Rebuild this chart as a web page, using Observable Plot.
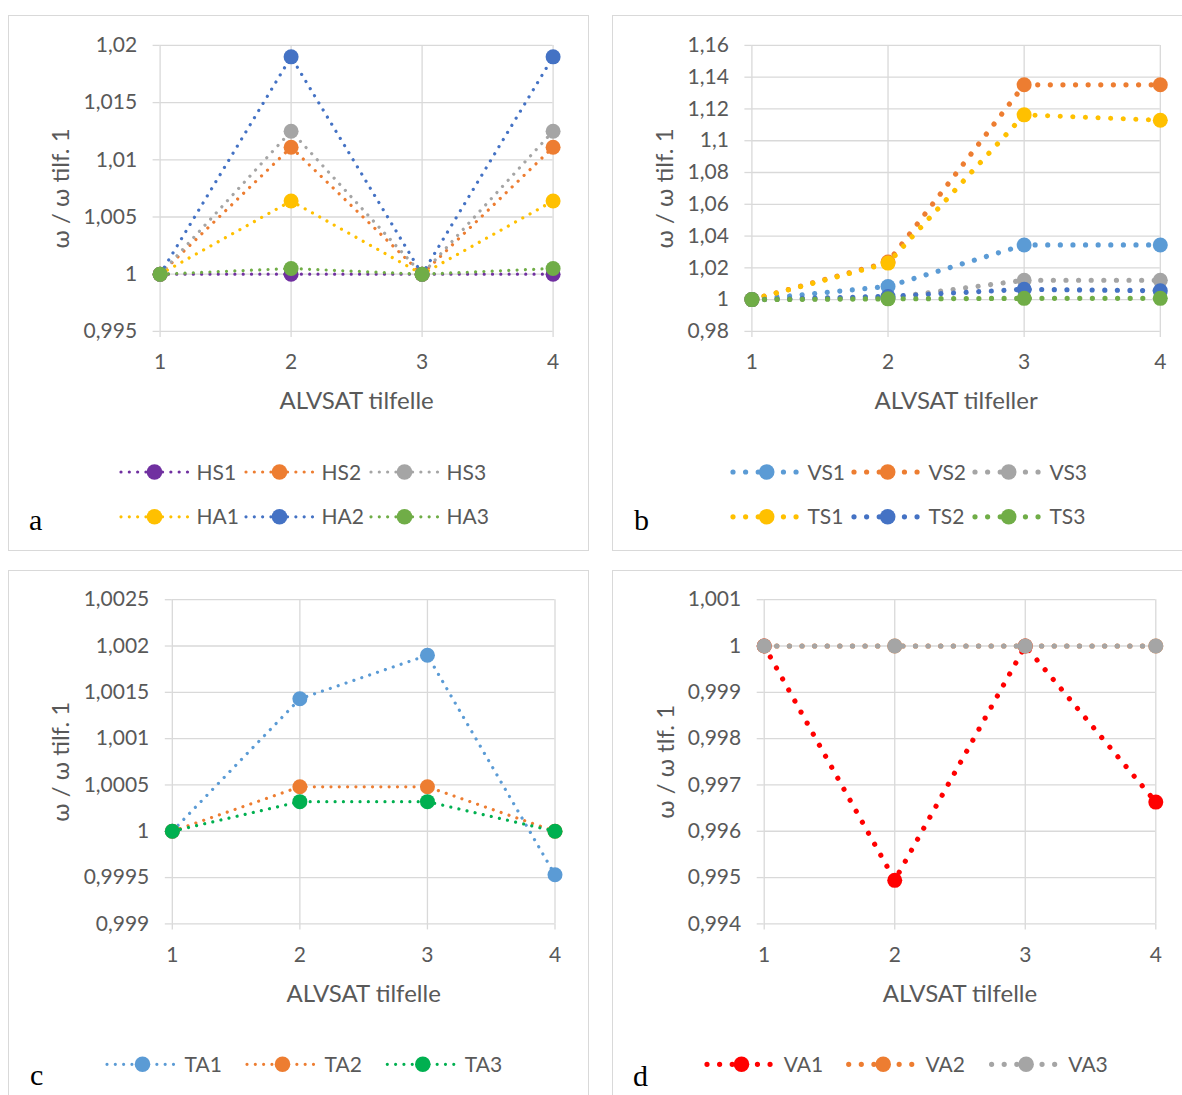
<!DOCTYPE html>
<html><head><meta charset="utf-8">
<script src="https://cdn.jsdelivr.net/npm/d3@7"></script>
<script src="https://cdn.jsdelivr.net/npm/@observablehq/plot@0.6"></script>
<style>
html,body{margin:0;padding:0;background:#fff;}
body{width:1182px;height:1095px;overflow:hidden;position:relative;font-family:Lato,"Open Sans",sans-serif;}
.panel{position:absolute;border:1px solid #d9d9d9;box-sizing:border-box;}
.plotbox{position:absolute;}
#overlay{position:absolute;left:0;top:0;}
</style></head><body>
<script>
// ---------- data ----------
const cases = [1, 2, 3, 4];

// panel a
const HS1 = [1, 1, 1, 1];
const HS2 = [1, 1.0111, 1, 1.0111];
const HS3 = [1, 1.0125, 1, 1.0125];
const HA1 = [1, 1.0064, 1, 1.0064];
const HA2 = [1, 1.019, 1, 1.019];
const HA3 = [1, 1.0005, 1, 1.0005];
const ticksA = [0.995, 1, 1.005, 1.01, 1.015, 1.02];

// panel b
const VS1 = [1, 1.0083, 1.0344, 1.0344];
const VS2 = [1, 1.0236, 1.1352, 1.1352];
const VS3 = [1, 1.001, 1.0122, 1.0122];
const TS1 = [1, 1.023, 1.1163, 1.1129];
const TS2 = [1, 1.002, 1.0065, 1.0056];
const TS3 = [1, 1.0005, 1.0008, 1.0008];
const ticksB = [0.98, 1, 1.02, 1.04, 1.06, 1.08, 1.1, 1.12, 1.14, 1.16];

// panel c
const TA1 = [1, 1.00143, 1.0019, 0.99953];
const TA2 = [1, 1.00048, 1.00048, 1];
const TA3 = [1, 1.00032, 1.00032, 1];
const ticksC = [0.999, 0.9995, 1, 1.0005, 1.001, 1.0015, 1.002, 1.0025];

// panel d
const VA1 = [1, 0.99494, 1, 0.99663];
const VA2 = [1, 1, 1, 1];
const VA3 = [1, 1, 1, 1];
const ticksD = [0.994, 0.995, 0.996, 0.997, 0.998, 0.999, 1, 1.001];

const xTitleA = "ALVSAT tilfelle";
const xTitleB = "ALVSAT tilfeller";
const yTitleABC = "ω / ω tilf. 1";
const yTitleD = "ω / ω tlf. 1";

// ---------- styling / layout ----------
const TXT = "#595959", GRID = "#d9d9d9";
const fmt = v => String(v).replace(".", ",");

const panels = [
  { letter: "a", border: [8, 15, 581, 536], svg: [10, 17, 575, 410],
    plot: [159.6, 44.9, 552.6, 330.9], domain: [0.995, 1.02], ticks: ticksA,
    xTitle: xTitleA, xTitleY: 400.7, yTitle: yTitleABC, yTitleX: 61,
    lw: 3.2, dash: "0.01 8.3", r: 7.5,
    series: [
      { name: "HS1", values: HS1, color: "#7030A0" },
      { name: "HS2", values: HS2, color: "#ED7D31" },
      { name: "HS3", values: HS3, color: "#A5A5A5" },
      { name: "HA1", values: HA1, color: "#FFC000" },
      { name: "HA2", values: HA2, color: "#4472C4" },
      { name: "HA3", values: HA3, color: "#70AD47" }],
    legend: { rows: [["HS1", "HS2", "HS3"], ["HA1", "HA2", "HA3"]], rowY: [472, 516.8],
      starts: [121, 246, 371], len: 67, mark: 33.5, text: 75.5 },
    letterPos: [29, 530] },
  { letter: "b", border: [612, 15, 600, 536], svg: [614, 17, 568, 410],
    plot: [751.4, 44.9, 1159.8, 330.9], domain: [0.98, 1.16], ticks: ticksB,
    xTitle: xTitleB, xTitleY: 400.7, yTitle: yTitleABC, yTitleX: 665,
    lw: 5.2, dash: "0.01 12.6", r: 7.5,
    series: [
      { name: "VS1", values: VS1, color: "#5B9BD5" },
      { name: "VS2", values: VS2, color: "#ED7D31" },
      { name: "VS3", values: VS3, color: "#A5A5A5" },
      { name: "TS1", values: TS1, color: "#FFC000" },
      { name: "TS2", values: TS2, color: "#4472C4" },
      { name: "TS3", values: TS3, color: "#70AD47" }],
    legend: { rows: [["VS1", "VS2", "VS3"], ["TS1", "TS2", "TS3"]], rowY: [472, 516.8],
      starts: [733, 854, 975], len: 64, mark: 33.7, text: 74.5 },
    letterPos: [634, 530] },
  { letter: "c", border: [8, 570, 581, 600], svg: [10, 573, 575, 440],
    plot: [171.8, 599.2, 554.5, 923.4], domain: [0.999, 1.0025], ticks: ticksC,
    xTitle: xTitleA, xTitleY: 994, yTitle: yTitleABC, yTitleX: 61,
    lw: 3.2, dash: "0.01 8.3", r: 7.5,
    series: [
      { name: "TA1", values: TA1, color: "#5B9BD5" },
      { name: "TA2", values: TA2, color: "#ED7D31" },
      { name: "TA3", values: TA3, color: "#00B050" }],
    legend: { rows: [["TA1", "TA2", "TA3"]], rowY: [1064.3],
      starts: [107, 247, 387.3], len: 69, mark: 35.5, text: 77.5 },
    letterPos: [30, 1085] },
  { letter: "d", border: [612, 570, 600, 600], svg: [614, 573, 568, 440],
    plot: [763.7, 599.2, 1155.3, 923.4], domain: [0.994, 1.001], ticks: ticksD,
    xTitle: xTitleA, xTitleY: 994, yTitle: yTitleD, yTitleX: 666,
    lw: 5.2, dash: "0.01 12.6", r: 7.5,
    series: [
      { name: "VA1", values: VA1, color: "#FF0000" },
      { name: "VA2", values: VA2, color: "#ED7D31" },
      { name: "VA3", values: VA3, color: "#A5A5A5" }],
    legend: { rows: [["VA1", "VA2", "VA3"]], rowY: [1064.3],
      starts: [707, 848.7, 991.6], len: 64, mark: 34.5, text: 76.7 },
    letterPos: [633, 1086] }
];

// ---------- drawing ----------
for (const p of panels) {
  const b = document.createElement("div");
  b.className = "panel";
  Object.assign(b.style, { left: p.border[0] + "px", top: p.border[1] + "px", width: p.border[2] + "px", height: p.border[3] + "px" });
  document.body.appendChild(b);
}

for (const p of panels) {
  const [sx, sy, W, H] = p.svg;
  const [px0, py0, px1, py1] = p.plot;
  const rows = [];
  p.series.forEach(s => s.values.forEach((v, i) => rows.push({ series: s.name, x: cases[i], y: v })));
  const marks = [
    Plot.gridX(cases, { stroke: GRID, strokeOpacity: 1, strokeWidth: 1.3 }),
    Plot.gridY(p.ticks, { stroke: GRID, strokeOpacity: 1, strokeWidth: 1.3 }),
    Plot.axisY(p.ticks, { tickSize: 7, tickPadding: 16, stroke: GRID, strokeWidth: 1.3, fill: TXT,
      fontSize: 21, tickFormat: fmt, label: null }),
    Plot.axisX(cases, { tickSize: 6, tickPadding: 17, stroke: GRID, strokeWidth: 1.3, fill: TXT,
      fontSize: 21, tickFormat: d => String(d), label: null })
  ];
  for (const s of p.series) {
    const d = rows.filter(r => r.series === s.name);
    marks.push(Plot.line(d, { x: "x", y: "y", stroke: s.color, strokeWidth: p.lw,
      strokeDasharray: p.dash, strokeLinecap: "round" }));
    marks.push(Plot.dot(d, { x: "x", y: "y", r: p.r, fill: s.color, stroke: "none" }));
  }
  marks.push(Plot.text([p.xTitle], { text: d => d, frameAnchor: "bottom", dy: p.xTitleY - py1,
    lineAnchor: "middle", textAnchor: "middle", fontSize: 24, fill: TXT }));
  marks.push(Plot.text([p.yTitle], { text: d => d, frameAnchor: "left", dx: p.yTitleX - px0,
    rotate: -90, lineAnchor: "middle", textAnchor: "middle", fontSize: 24, fill: TXT }));

  const chart = Plot.plot({
    width: W, height: H,
    marginLeft: px0 - sx, marginRight: sx + W - px1,
    marginTop: py0 - sy, marginBottom: sy + H - py1,
    style: { fontFamily: "Lato, 'Open Sans', sans-serif", color: TXT, background: "transparent", overflow: "visible" },
    x: { type: "linear", domain: [1, 4], label: null },
    y: { type: "linear", domain: p.domain, label: null },
    marks
  });
  const box = document.createElement("div");
  box.className = "plotbox";
  Object.assign(box.style, { left: sx + "px", top: sy + "px", width: W + "px", height: H + "px" });
  box.appendChild(chart);
  document.body.appendChild(box);
}

// legends and panel letters (outside the plot SVGs)
const ov = d3.select("body").append("svg").attr("id", "overlay")
  .attr("width", 1182).attr("height", 1095);
for (const p of panels) {
  const L = p.legend;
  L.rows.forEach((row, ri) => {
    const y = L.rowY[ri];
    row.forEach((name, ci) => {
      const s = p.series.find(q => q.name === name);
      const x0 = L.starts[ci];
      ov.append("line").attr("x1", x0).attr("x2", x0 + L.len).attr("y1", y).attr("y2", y)
        .attr("stroke", s.color).attr("stroke-width", p.lw).attr("stroke-dasharray", p.dash)
        .attr("stroke-linecap", "round");
      ov.append("circle").attr("cx", x0 + L.mark).attr("cy", y).attr("r", p.r + 0.3).attr("fill", s.color);
      ov.append("text").attr("x", x0 + L.text).attr("y", y + 21 * 0.358)
        .attr("font-family", "Lato, 'Open Sans', sans-serif").attr("font-size", 21)
        .attr("fill", TXT).text(name);
    });
  });
  ov.append("text").attr("x", p.letterPos[0]).attr("y", p.letterPos[1])
    .attr("font-family", "'Liberation Serif', 'DejaVu Serif', serif").attr("font-size", 30)
    .attr("fill", "#000").text(p.letter);
}
</script>
</body></html>
